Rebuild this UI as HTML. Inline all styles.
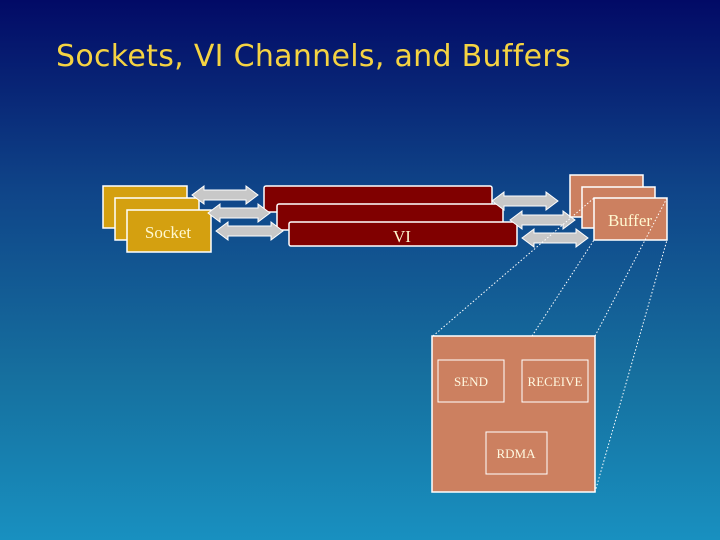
<!DOCTYPE html>
<html><head><meta charset="utf-8"><style>
html,body{margin:0;padding:0;width:720px;height:540px;overflow:hidden}
</style></head><body>
<svg width="720" height="540" xmlns="http://www.w3.org/2000/svg">
<defs>
<linearGradient id="bg" x1="0" y1="0" x2="0" y2="1">
<stop offset="0" stop-color="#020a66"/>
<stop offset="0.35" stop-color="#0f4488"/>
<stop offset="0.7" stop-color="#16709f"/>
<stop offset="1" stop-color="#1890c0"/>
</linearGradient>
</defs>
<rect width="720" height="540" fill="url(#bg)"/>
<text x="56" y="66" font-family="DejaVu Sans, sans-serif" font-size="30" letter-spacing="0.3" fill="#f5d342">Sockets, VI Channels, and Buffers</text>

<g stroke="#fff" stroke-width="1.5" fill="#d4a010">
<rect x="103" y="186" width="84" height="42"/>
<rect x="115" y="198" width="84" height="42"/>
<rect x="127" y="210" width="84" height="42"/>
</g>
<text x="168" y="238" text-anchor="middle" font-family="Liberation Serif, serif" font-size="17" fill="#fff8d0">Socket</text>

<g stroke="#fff" stroke-width="1.5" fill="#800000">
<rect x="264" y="186" width="228" height="26" rx="2"/>
<rect x="277" y="204" width="226" height="26" rx="2"/>
<rect x="289" y="222" width="228" height="24" rx="2"/>
</g>
<text x="402" y="242" text-anchor="middle" font-family="Liberation Serif, serif" font-size="17" fill="#fff8d0">VI</text>

<g stroke="#fff" stroke-width="1" fill="#c8c8c8">
<path d="M192,195 L204,186 L204,190 L246,190 L246,186 L258,195 L246,204 L246,200 L204,200 L204,204 Z"/>
<path d="M208,213 L220,204 L220,208 L258,208 L258,204 L270,213 L258,222 L258,218 L220,218 L220,222 Z"/>
<path d="M216,231 L228,222 L228,226 L271,226 L271,222 L283,231 L271,240 L271,236 L228,236 L228,240 Z"/>
<path d="M492,201 L504,192 L504,196 L546,196 L546,192 L558,201 L546,210 L546,206 L504,206 L504,210 Z"/>
<path d="M510,220 L522,211 L522,215 L563,215 L563,211 L575,220 L563,229 L563,225 L522,225 L522,229 Z"/>
<path d="M522,238 L534,229 L534,233 L576,233 L576,229 L588,238 L576,247 L576,243 L534,243 L534,247 Z"/>
</g>

<g stroke="#fff" stroke-width="1.5" fill="#cc8060">
<rect x="570" y="175" width="73" height="42"/>
<rect x="582" y="187" width="73" height="41"/>
<rect x="594" y="198" width="73" height="42"/>
</g>
<text x="630" y="226" text-anchor="middle" font-family="Liberation Serif, serif" font-size="17" fill="#fff8d0">Buffer</text>

<g stroke="#fff" stroke-width="1" stroke-dasharray="1.5,2" fill="none">
<line x1="433" y1="336" x2="594" y2="198"/>
<line x1="532" y1="336" x2="594" y2="240"/>
<line x1="595" y1="336" x2="667" y2="198"/>
<line x1="595" y1="492" x2="667" y2="240"/>
</g>

<rect x="432" y="336" width="163" height="156" fill="#cc8060" stroke="#fff" stroke-width="1.5"/>
<g stroke="#fff" stroke-width="1" fill="none">
<rect x="438" y="360" width="66" height="42"/>
<rect x="522" y="360" width="66" height="42"/>
<rect x="486" y="432" width="61" height="42"/>
</g>
<g font-family="Liberation Serif, serif" font-size="13" fill="#fff8e0" text-anchor="middle">
<text x="471" y="386">SEND</text>
<text x="555" y="386">RECEIVE</text>
<text x="516" y="458">RDMA</text>
</g>
</svg>
</body></html>
